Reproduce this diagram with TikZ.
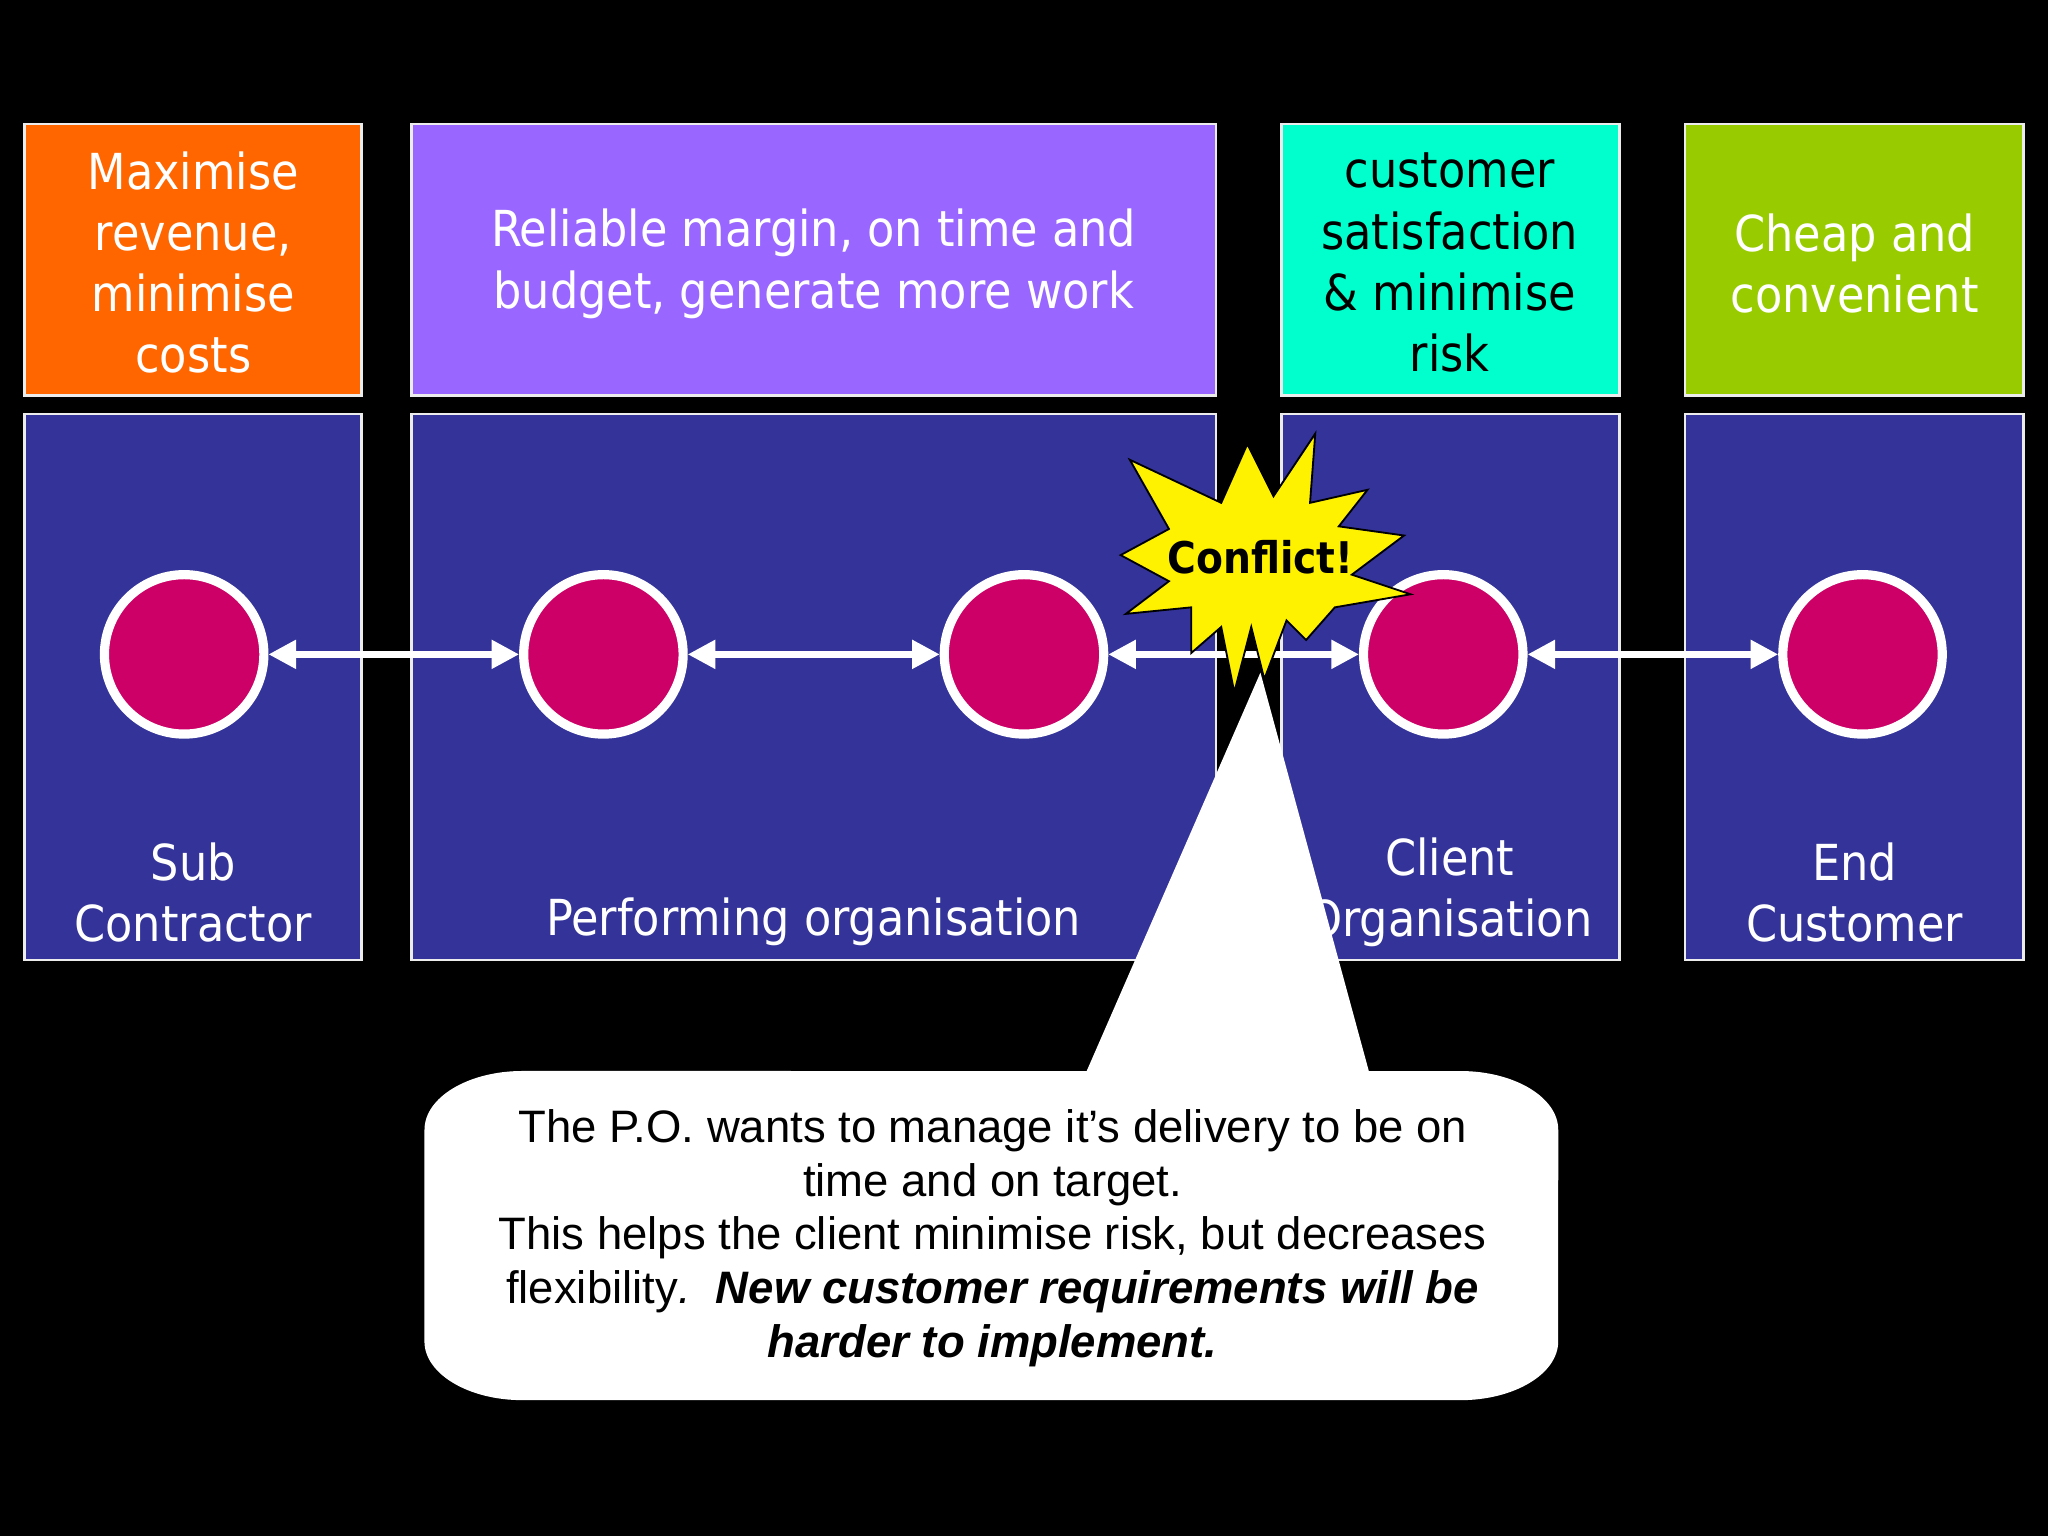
\documentclass[tikz,border=0pt]{standalone}
\usepackage{fontspec}
\setmainfont{DejaVu Sans Condensed}
\newfontfamily\arialf{Liberation Sans}
\usetikzlibrary{arrows.meta}
\definecolor{cOr}{HTML}{FF6600}
\definecolor{cPu}{HTML}{9966FF}
\definecolor{cCy}{HTML}{00FFCC}
\definecolor{cGr}{HTML}{99CC00}
\definecolor{cBl}{HTML}{333399}
\definecolor{cMg}{HTML}{CC0066}
\begin{document}
\begin{tikzpicture}[x=0.01cm,y=0.01cm,
  box/.style={draw=white!85!gray,line width=0.6pt},
  btxt/.style={text=white,align=center,font=\fontsize{10.8}{13.3}\selectfont},
  dot/.style={circle,fill=cMg,draw=white,line width=2pt,minimum size=1.22cm,inner sep=0pt},
  arr/.style={white,line width=1.4pt,{Triangle[length=6pt,width=6pt]}-{Triangle[length=6pt,width=6pt]}}]
\fill[black] (0,0) rectangle (1568,-1176);
\useasboundingbox (0,0) rectangle (1568,-1176);
% top boxes
\fill[cOr,box] (19,-95) rectangle (277,-303);
\fill[cPu,box] (315,-95) rectangle (931,-303);
\fill[cCy,box] (981,-95) rectangle (1240,-303);
\fill[cGr,box] (1290,-95) rectangle (1549,-303);
\node[btxt] (t1) at (148,-201) {Maximise\\revenue,\\minimise\\costs};
\node[btxt] (t2) at (623,-202) {Reliable margin, on time and\\budget, generate more work};
\node[btxt,text=black] (t3) at (1110,-201) {customer\\satisfaction\\\& minimise\\risk};
\node[btxt] (t4) at (1420,-202) {Cheap and\\convenient};
% bottom boxes
\fill[cBl,box] (19,-317) rectangle (277,-735);
\fill[cBl,box] (315,-317) rectangle (931,-735);
\fill[cBl,box] (981,-317) rectangle (1240,-735);
\fill[cBl,box] (1290,-317) rectangle (1549,-735);
\node[btxt] (l1) at (148,-683) {Sub\\Contractor};
\node[btxt] (l2) at (623,-706) {Performing organisation};
\node[btxt] (l3) at (1110,-683) {Client\\Organisation};
\node[btxt] (l4) at (1420,-683) {End\\Customer};
% circles
\node[dot] (c1) at (141,-501) {};
\node[dot] (c2) at (462,-501) {};
\node[dot] (c3) at (784,-501) {};
\node[dot] (c4) at (1105,-501) {};
\node[dot] (c5) at (1426,-501) {};
\draw[arr] (c1) -- (c2);
\draw[arr] (c2) -- (c3);
\draw[arr] (c3) -- (c4);
\draw[arr] (c4) -- (c5);
% starburst
\fill[yellow,draw=black,line width=0.4pt] (865,-352) -- (935,-385) -- (955,-340) -- (975,-380) -- (1007,-332) -- (1003,-385) -- (1047,-375) -- (1025,-403) -- (1075,-410) -- (1035,-440) -- (1080,-455) -- (1022,-465) -- (1000,-490) -- (985,-475) -- (968,-520) -- (958,-480) -- (945,-530) -- (935,-480) -- (912,-500) -- (912,-465) -- (862,-470) -- (895,-445) -- (858,-425) -- (895,-405) -- cycle;
\node[font=\bfseries\fontsize{9.5}{12}\selectfont] (cf) at (965,-427) {Conflict!};
% callout
\fill[white] (1048,-820) -- (1118,-820) arc[start angle=90,end angle=0,x radius=0.75cm,y radius=0.45cm]
 -- (1193,-1027) arc[start angle=0,end angle=-90,x radius=0.75cm,y radius=0.45cm]
 -- (400,-1072) arc[start angle=270,end angle=180,x radius=0.75cm,y radius=0.45cm]
 -- (325,-865) arc[start angle=180,end angle=90,x radius=0.75cm,y radius=0.45cm]
 -- (832,-820) -- (965,-515) -- cycle;
\node[align=center,font=\arialf\fontsize{9.9}{11.7}\selectfont] (ct) at (760,-948)
 {The P.O. wants to manage it’s delivery to be on\\time and on target.\\This helps the client minimise risk, but decreases\\flexibility\textit{.\ \ \textbf{New customer requirements will be}}\\\textbf{\textit{harder to implement.}}};
\end{tikzpicture}
\end{document}
